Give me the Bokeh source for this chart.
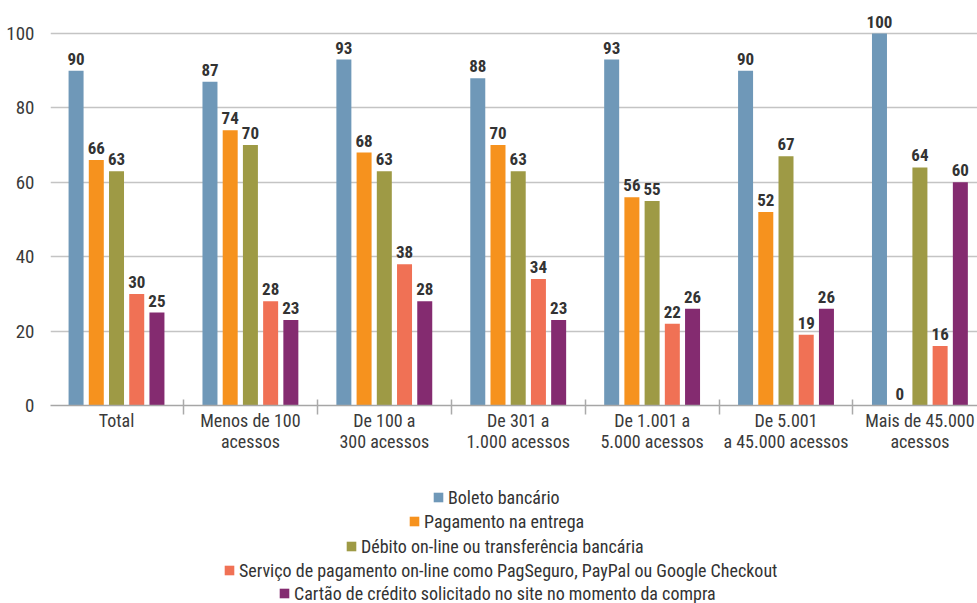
import numpy as np
from bokeh.plotting import figure
from bokeh.layouts import column
from bokeh.models import ColumnDataSource, Range1d, FixedTicker, Legend, LegendItem
from bokeh.core.properties import value
from bokeh.transform import dodge
from bokeh.embed import file_html
from bokeh.resources import INLINE

categories = ["Total", "Menos de 100\nacessos", "De 100 a\n300 acessos", "De 301 a\n1.000 acessos",
              "De 1.001 a\n5.000 acessos", "De 5.001\na 45.000 acessos", "Mais de 45.000\nacessos"]
series_names = ["Boleto bancário",
                "Pagamento na entrega",
                "Débito on-line ou transferência bancária",
                "Serviço de pagamento on-line como PagSeguro, PayPal ou Google Checkout",
                "Cartão de crédito solicitado no site no momento da compra"]
boleto = [90, 87, 93, 88, 93, 90, 100]
pagamento = [66, 74, 68, 70, 56, 52, 0]
debito = [63, 70, 63, 63, 55, 67, 64]
servico = [30, 28, 38, 34, 22, 19, 16]
cartao = [25, 23, 28, 23, 26, 26, 60]
y_ticks = [0, 20, 40, 60, 80, 100]

series_values = [boleto, pagamento, debito, servico, cartao]
colors = ["#6f98b8", "#f6921e", "#9e9a45", "#f07155", "#842b70"]
offsets = [-0.302, -0.151, 0.0, 0.151, 0.302]
BAR_W = 0.112

FONT = "'Liberation Sans Narrow', 'Roboto Condensed', 'DejaVu Sans Condensed', sans-serif"

W = 977
MAIN_H = 470
LEG_H = 603 - MAIN_H
FRAME_LEFT, FRAME_TOP, FRAME_BOTTOM = 50, 9, 405

# legend rows: left edge of each (centred) row and its vertical centre, page px
legend_x = [432, 408, 345, 223, 278]
legend_row_center = [497, 521, 546, 570, 593]

p = figure(width=W, height=MAIN_H, output_backend="svg", toolbar_location=None,
           x_range=Range1d(-0.493, -0.493 + (W - FRAME_LEFT) / 133.9),
           y_range=Range1d(0, (FRAME_BOTTOM - FRAME_TOP) / 3.72),
           min_border_left=FRAME_LEFT, min_border_right=0, min_border_top=FRAME_TOP,
           min_border_bottom=MAIN_H - FRAME_BOTTOM)
p.outline_line_color = None
p.background_fill_color = "white"

xs = list(range(len(categories)))
for vals, col, off in zip(series_values, colors, offsets):
    src = ColumnDataSource(dict(x=xs, y=vals, lbl=[str(v) for v in vals]))
    p.vbar(x=dodge("x", off), top="y", width=BAR_W, source=src,
           fill_color=col, line_color=None)
    p.text(x=dodge("x", off), y="y", text="lbl", source=src,
           text_align="center", text_baseline="bottom", y_offset=-6,
           text_font=value(FONT), text_font_style="bold",
           text_font_size="17px", text_color="#333333")

# x axis
p.xaxis.ticker = FixedTicker(ticks=xs, minor_ticks=[i + 0.5 for i in range(len(categories) - 1)])
p.xaxis.major_label_overrides = {i: c for i, c in enumerate(categories)}
p.xaxis.major_tick_line_color = None
p.xaxis.major_tick_out = 0
p.xaxis.major_tick_in = 0
p.xaxis.minor_tick_line_color = "#aaaaaa"
p.xaxis.minor_tick_line_width = 1.5
p.xaxis.minor_tick_in = 6
p.xaxis.minor_tick_out = 9
p.xaxis.axis_line_color = "#a6a6a6"
p.xaxis.axis_line_width = 1.5
p.xaxis.major_label_text_font = FONT
p.xaxis.major_label_text_font_size = "18px"
p.xaxis.major_label_text_color = "#3a3a3a"
p.xaxis.major_label_text_line_height = 1.0
p.xaxis.major_label_standoff = -5

# y axis
p.yaxis.ticker = FixedTicker(ticks=y_ticks)
p.yaxis.axis_line_color = None
p.yaxis.major_tick_line_color = None
p.yaxis.minor_tick_line_color = None
p.yaxis.major_label_text_font = FONT
p.yaxis.major_label_text_font_size = "19px"
p.yaxis.major_label_text_color = "#3a3a3a"
p.yaxis.major_label_standoff = 10

p.xgrid.grid_line_color = None
p.ygrid.grid_line_color = "#c4c4c4"
p.ygrid.grid_line_width = 1.5

# legend panel (separate figure below the chart so rows are not clipped)
leg = figure(width=W, height=LEG_H, output_backend="svg", toolbar_location=None,
             x_range=Range1d(0, W), y_range=Range1d(0, LEG_H),
             x_axis_location=None, y_axis_location=None,
             min_border_left=0, min_border_right=0, min_border_top=0, min_border_bottom=0)
leg.outline_line_color = None
leg.xgrid.grid_line_color = None
leg.ygrid.grid_line_color = None

ROW_H = 22
for name, col, lx, cy in zip(series_names, colors, legend_x, legend_row_center):
    # swatch-only renderer: a zero-height bar far outside the visible range
    r = leg.vbar(x=[-1000], top=[0], bottom=[0], width=1, fill_color=col, line_color=None)
    lg = Legend(items=[LegendItem(label=name, renderers=[r])],
                location=(lx - FRAME_LEFT, 603 - (cy + ROW_H / 2)),
                orientation="horizontal", border_line_color=None, background_fill_alpha=0,
                padding=0, margin=0, spacing=0, label_standoff=4,
                glyph_width=12, glyph_height=12, label_height=ROW_H,
                label_text_font=FONT, label_text_font_size="18px", label_text_color="#333333")
    leg.add_layout(lg, "center")

layout = column(p, leg, spacing=0)
open("out.html", "w").write(file_html(layout, INLINE))
